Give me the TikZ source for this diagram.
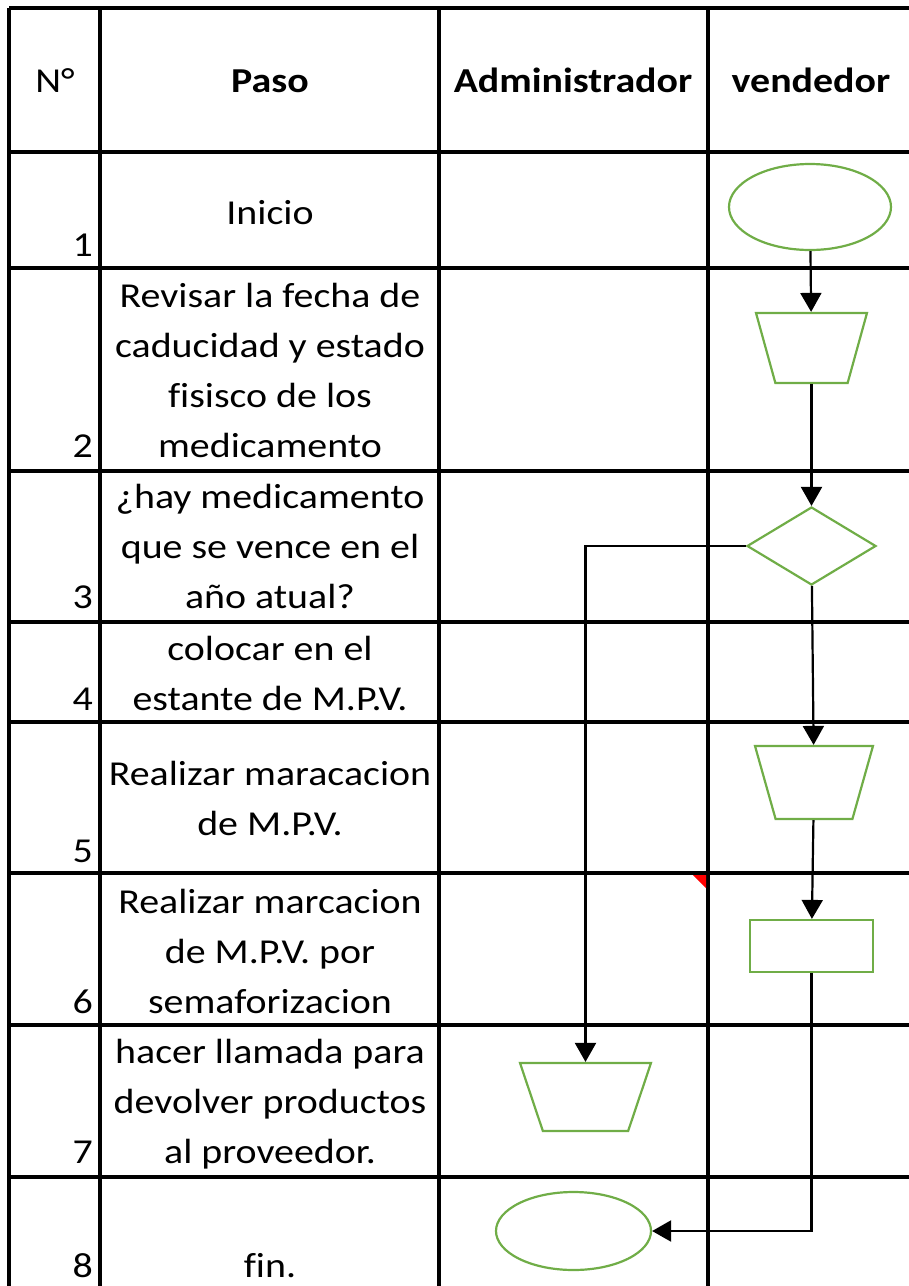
\documentclass[tikz,border=0pt]{standalone}
\usepackage{fontspec}
\setmainfont{Carlito}[FakeStretch=1.14, Ligatures=NoCommon]
\usepackage{tikz}
\usetikzlibrary{shapes.geometric,arrows.meta}
\definecolor{verde}{RGB}{112,173,71}
\tikzstyle{rejilla} = [line width=3.3pt]
\tikzstyle{paso} = [align=center, anchor=base, inner sep=0pt, font=\fontsize{35}{50}\selectfont]
\tikzstyle{num} = [anchor=base east, inner sep=0pt, font=\fontsize{35}{50}\selectfont]
\tikzstyle{cab} = [anchor=base, inner sep=0pt, font=\bfseries\fontsize{35}{50}\selectfont]
\tikzstyle{term} = [ellipse, draw=verde, line width=2.2pt, inner sep=1pt]
\tikzstyle{trap} = [trapezium, trapezium angle=75, trapezium stretches=true, shape border rotate=180, draw=verde, line width=2.2pt, inner sep=2pt]
\tikzstyle{dec} = [diamond, draw=verde, line width=2.2pt, inner sep=1pt]
\tikzstyle{proc} = [rectangle, draw=verde, line width=2.2pt, inner sep=1pt]
\tikzstyle{flecha} = [line width=2.2pt, -{Triangle[length=19pt,width=21pt]}]

\begin{document}
\begin{tikzpicture}[x=1pt, y=-1pt]
\useasboundingbox (0,0) rectangle (909,1286);
% rejilla de la tabla
\draw[rejilla] (9,8) -- (909,8) (9,152) -- (909,152) (9,268) -- (909,268)
    (9,471) -- (909,471) (9,622) -- (909,622) (9,722) -- (909,722)
    (9,873) -- (909,873) (9,1025) -- (909,1025) (9,1177) -- (909,1177)
    (9,8) -- (9,1286) (100,8) -- (100,1286) (439,8) -- (439,1286) (708,8) -- (708,1286);
\fill[red] (693,875) -- (706,875) -- (706,888) -- cycle;

% encabezado
\node(hN)[cab, font=\fontsize{35}{50}\selectfont] at (55,92) {N°};
\node(hPaso)[cab] at (270,92) {Paso};
\node(hAdm)[cab] at (573,92) {Administrador};
\node(hVen)[cab] at (811,92) {vendedor};

% numeros
\node(n1)[num] at (93,256) {1};
\node(n2)[num] at (93,457) {2};
\node(n3)[num] at (93,608) {3};
\node(n4)[num] at (93,710) {4};
\node(n5)[num] at (93,862) {5};
\node(n6)[num] at (93,1013) {6};
\node(n7)[num] at (93,1163) {7};
\node(n8)[num] at (93,1277) {8};

% pasos (base = ultima linea)
\node(p1)[paso] at (270,224) {Inicio};
\node(p2)[paso] at (270,457) {Revisar la fecha de\\caducidad y estado\\fisisco de los\\medicamento};
\node(p3)[paso] at (270,608) {¿hay medicamento\\que se vence en el\\año atual?};
\node(p4)[paso] at (270,710) {colocar en el\\estante de M.P.V.};
\node(p5)[paso] at (270,835) {Realizar maracacion\\de M.P.V.};
\node(p6)[paso] at (270,1013) {Realizar marcacion\\de M.P.V. por\\semaforizacion};
\node(p7)[paso] at (270,1163) {hacer llamada para\\devolver productos\\al proveedor.};
\node(p8)[paso] at (270,1277) {fin.};

% simbolos
\node(Ini)[term, minimum width=162pt, minimum height=86pt] at (810,207) {};
\node(Rev)[trap, minimum width=111pt, minimum height=70pt] at (811.5,348) {};
\node(Dec)[dec, minimum width=129pt, minimum height=78pt] at (811.5,546) {};
\node(Mar)[trap, minimum width=118pt, minimum height=73pt] at (814,782.5) {};
\node(Sem)[proc, minimum width=123pt, minimum height=52pt] at (811.5,946) {};
\node(Lla)[trap, minimum width=131pt, minimum height=68pt] at (585.5,1097) {};
\node(Fin)[term, minimum width=155pt, minimum height=78pt] at (573.5,1231) {};

% flujo
\draw[flecha] (Ini) -- (Rev);
\draw[flecha] (Rev) -- (Dec);
\draw[flecha] (Dec) -- (Mar);
\draw[flecha] (Mar) -- (Sem);
\draw[flecha] (Dec.west) -| (Lla);
\draw[flecha] (Sem) |- (Fin);
\end{tikzpicture}
\end{document}
